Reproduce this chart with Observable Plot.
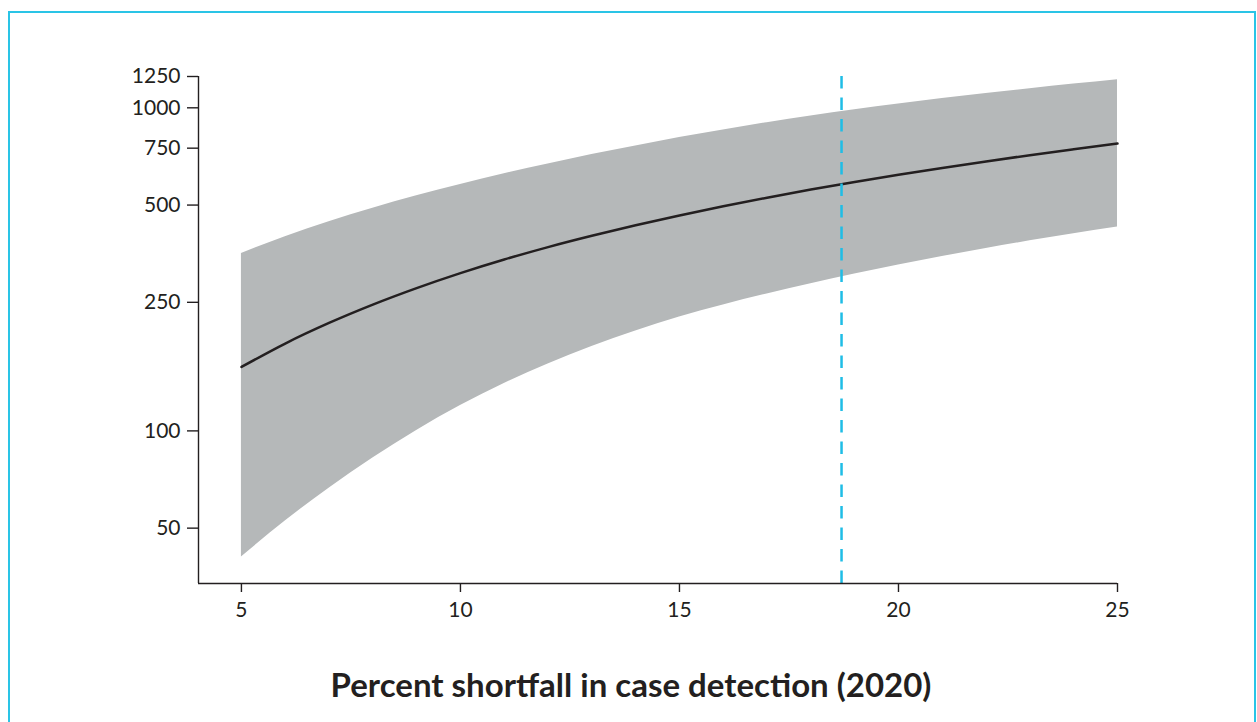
<!DOCTYPE html>
<html><head><meta charset="utf-8">
<script src="https://cdn.jsdelivr.net/npm/d3@7"></script>
<script src="https://cdn.jsdelivr.net/npm/@observablehq/plot@0.6"></script>
<style>
body{margin:0;background:#fff;width:1257px;height:722px;overflow:hidden;position:relative;font-family:Lato,sans-serif;}
#frame{position:absolute;left:8px;top:11px;width:1248px;height:800px;border:2px solid #2ac4e6;box-sizing:border-box;}
#chart{position:absolute;left:0;top:0;}
#xlabel{position:absolute;top:664px;left:0;width:1262px;text-align:center;font-weight:700;font-size:33px;line-height:40px;color:#231f20;font-family:Lato,sans-serif;}
</style></head><body>
<div id="frame"></div><div id="chart"></div><div id="xlabel">Percent shortfall in case detection (2020)</div>
<script>
const shortfall = [5,6,7,8,9,10,11,12,13,14,15,16,17,18,19,20,21,22,23,24,25];
const median = [157.7,186.4,215.8,245.9,276.6,307.8,339.2,370.6,401.7,432.9,464.3,495.8,527,558.5,589.6,620.9,651.6,682.5,713.4,743.9,774.8];
const lower = [40.7,52.6,66.5,82.4,100.3,119.8,140.2,161.1,182.5,203.9,225.3,245.4,265.4,285.6,305.9,326.2,346.5,366.9,387.4,407.8,428];
const upper = [354,399.1,444.2,489,533.9,578.6,624.8,669.9,716.4,761.7,808.8,853.6,899.5,942.9,986.2,1027,1068,1107,1146,1184,1222];
const yTicks = [50,100,250,500,750,1000,1250];
const xTicks = [5,10,15,20,25];
const markerX = [18.7];

const data = shortfall.map((x,i)=>({x, lo: lower[i], mid: median[i], hi: upper[i]}));
const plot = Plot.plot({
  width:1257, height:640, marginLeft:198, marginRight:140, marginTop:76, marginBottom:57,
  x:{domain:[4.02,25]},
  y:{type:"log", domain:[33.7,1250]},
  style:{fontFamily:"Lato, sans-serif", fontSize:"21px", color:"#231f20", background:"transparent", overflow:"visible"},
  marks:[
    Plot.areaY(data,{x:"x", y1:"lo", y2:"hi", fill:"#b5b8b9", curve:"monotone-x"}),
    Plot.lineY(data,{x:"x", y:"mid", stroke:"#231f20", strokeWidth:2.5, curve:"monotone-x"}),
    Plot.ruleX(markerX,{stroke:"#1fbde6", strokeWidth:2.5, strokeDasharray:"12.5,9"}),
    Plot.ruleX([4.02],{stroke:"#231f20", strokeWidth:1.4}),
    Plot.ruleY([33.7],{stroke:"#231f20", strokeWidth:1.4}),
    Plot.axisX({ticks:xTicks, tickSize:9, tickPadding:10, label:null, stroke:"#231f20", strokeWidth:1.4}),
    Plot.axisY({ticks:yTicks, tickSize:11, text:null, label:null, stroke:"#231f20", strokeWidth:1.4}),
    Plot.text(yTicks,{y:d=>d, text:d=>String(d), frameAnchor:"left", textAnchor:"end", dx:-18, fill:"#231f20", fontSize:21})
  ]
});
document.getElementById("chart").appendChild(plot);
</script>
</body></html>
